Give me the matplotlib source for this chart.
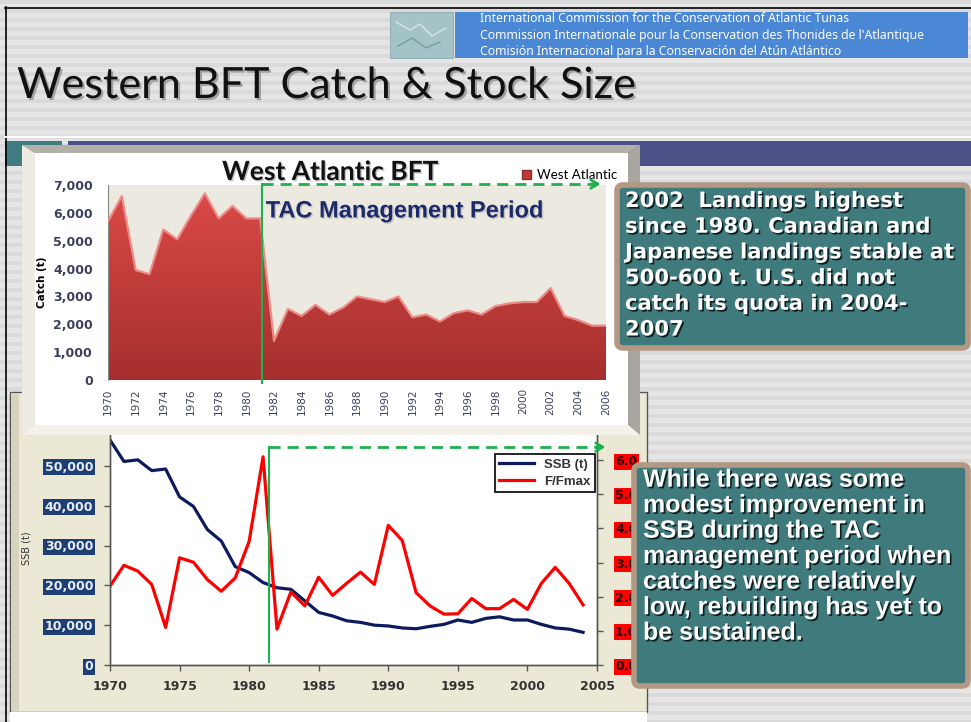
import matplotlib
matplotlib.use('Agg')
import matplotlib.pyplot as plt
import matplotlib.patheffects as pe
from matplotlib.patches import Rectangle, FancyBboxPatch, Polygon
from matplotlib.colors import LinearSegmentedColormap
import numpy as np

W, H = 971, 722

# --- data ---
catch_years = list(range(1970, 2007))
catch_t = [5700, 6600, 3950, 3800, 5400, 5050, 5900, 6700, 5800, 6250, 5800, 5800,
           1400, 2550, 2300, 2700, 2350, 2600, 3000, 2900, 2800, 3000, 2250, 2350,
           2100, 2400, 2500, 2350, 2650, 2750, 2800, 2800, 3300, 2300, 2150, 1950, 1950]
catch_ticks = list(range(0, 7001, 1000))
catch_xticks = list(range(1970, 2007, 2))

ssb_years = list(range(1970, 2005))
ssb_t = [56500, 51100, 51500, 48800, 49200, 42200, 39800, 34000, 31100, 24700,
         23200, 20700, 19400, 19000, 16100, 13200, 12300, 11100, 10700, 10000,
         9800, 9300, 9100, 9700, 10200, 11300, 10700, 11700, 12100, 11300,
         11300, 10200, 9300, 9000, 8200]
f_fmax = [2.31, 2.92, 2.75, 2.36, 1.10, 3.14, 3.01, 2.50, 2.16, 2.55,
          3.62, 6.10, 1.05, 2.14, 1.73, 2.57, 2.04, 2.39, 2.72, 2.36,
          4.09, 3.65, 2.12, 1.73, 1.49, 1.50, 1.95, 1.65, 1.65, 1.92,
          1.63, 2.39, 2.86, 2.39, 1.76]
ssb_ticks = list(range(0, 50001, 10000))
f_ticks = [0, 1, 2, 3, 4, 5, 6]
ssb_xticks = list(range(1970, 2006, 5))

banner_lines = ["International Commission for the Conservation of Atlantic Tunas",
                "Commission Internationale pour la Conservation des Thonides de l'Atlantique",
                "Comisión Internacional para la Conservación del Atún Atlántico"]
box1_lines = ["2002  Landings highest", "since 1980. Canadian and",
              "Japanese landings stable at", "500-600 t. U.S. did not",
              "catch its quota in 2004-", "2007"]
box2_lines = ["While there was some", "modest improvement in", "SSB during the TAC",
              "management period when", "catches were relatively",
              "low, rebuilding has yet to", "be sustained."]

GREEN = '#1DB04C'

fig = plt.figure(figsize=(W / 100, H / 100), dpi=100)


def px_axes(x0, y0, x1, y1, z):
    ax = fig.add_axes([x0 / W, 1 - y1 / H, (x1 - x0) / W, (y1 - y0) / H])
    ax.set_zorder(z)
    return ax


def overlay(z):
    ax = px_axes(0, 0, W, H, z)
    ax.set_xlim(0, W)
    ax.set_ylim(H, 0)
    ax.axis('off')
    return ax


# slide background
bg = overlay(0)
rows = np.where(np.arange(H) % 9 < 4, 0.855, 0.895)
bg.imshow(np.tile(rows[:, None], (1, 2)), cmap='gray', vmin=0, vmax=1,
          extent=(0, W, H, 0), aspect='auto')
bg.set_xlim(0, W); bg.set_ylim(H, 0)
bg.plot([5.5, 5.5], [7, H], color='black', lw=1.2)
bg.plot([5, W], [7.5, 7.5], color='black', lw=1.2)

# ICCAT banner
bg.add_patch(Rectangle((390, 12), 63, 46, fc='#A3C3C6', ec='#7FA3A8', lw=0.5))
bg.plot([396, 410, 420, 432, 446], [22, 30, 24, 36, 28], color='#E4EEEE', lw=1, alpha=0.8)
bg.plot([398, 412, 426, 440], [46, 38, 48, 42], color='#6E9397', lw=1, alpha=0.8)
bg.add_patch(Rectangle((455, 12), 513, 46, fc='#4A87D4', ec='none'))
for i, line in enumerate(banner_lines):
    bg.text(480, 19 + 16 * i, line, color='white', fontsize=8.8,
            family='Noto Sans', va='center')

bg.text(17, 86, 'Western BFT Catch & Stock Size', fontsize=31, family='Lato',
        va='center', color='#111111',
        path_effects=[pe.withSimplePatchShadow(offset=(1.5, -1.5),
                                               shadow_rgbFace='#777777', alpha=0.6)])
bg.plot([5, W], [137, 137], color='white', lw=1.5)
bg.add_patch(Rectangle((5, 141), 57, 25, fc='#3F7B80', ec='none'))
bg.add_patch(Rectangle((68, 141), W - 68, 25, fc='#4C5087', ec='none'))

# beige panel behind the lower chart
bg.add_patch(Rectangle((10, 392), 637, 320, fc='#ECE8D6', ec='#555555', lw=1))
bg.add_patch(Rectangle((11, 393), 8, 318, fc='#D8D3BE', ec='none'))
bg.add_patch(Rectangle((10, 712), 637, 10, fc='white', ec='none'))

# --- lower chart: SSB and F/Fmax ---
ax_b = px_axes(110, 426, 597, 665, 1)
ax_b.set_facecolor('white')
ax_b.plot(ssb_years, ssb_t, color='#0D1B5E', lw=2.3, label='SSB (t)')
ax_b.set_xlim(1970, 2005)
ax_b.set_ylim(0, 60000)
ax_b.set_xticks(ssb_xticks)
ax_b.set_yticks(ssb_ticks)
ax_b.set_yticklabels([f'{v:,}' for v in ssb_ticks])
ax_b2 = ax_b.twinx()
ax_b2.set_zorder(2)
ax_b2.plot(ssb_years, f_fmax, color='#FF0000', lw=2.3, label='F/Fmax')
ax_b2.set_ylim(0, 7)
ax_b2.set_yticks(f_ticks)
ax_b2.set_yticklabels([f'{v:.1f}' for v in f_ticks])
for a in (ax_b, ax_b2):
    a.spines['top'].set_visible(False)
    for s in a.spines.values():
        s.set_color('#555555')
        s.set_linewidth(1)
    a.tick_params(direction='out', length=4, color='#555555', width=1)
ax_b.tick_params(axis='x', pad=7, labelsize=9, labelcolor='#333333')
ax_b.tick_params(axis='y', pad=8, labelsize=9, labelcolor='#E8ECF5')
ax_b2.tick_params(axis='y', pad=9, labelsize=9, labelcolor='#300000')
for t in ax_b.get_xticklabels():
    t.set_fontweight('bold')
for t in ax_b.get_yticklabels():
    t.set_fontweight('bold')
    t.set_bbox(dict(boxstyle='square,pad=0.12', fc='#1E3F73', ec='none'))
for t in ax_b2.get_yticklabels():
    t.set_fontweight('bold')
    t.set_bbox(dict(boxstyle='square,pad=0.12', fc='#FF0000', ec='none'))
ax_b.text(-0.172, 0.49, 'SSB (t)', rotation=90, transform=ax_b.transAxes,
          ha='center', va='center', fontsize=7, color='#333333')
h1, l1 = ax_b.get_legend_handles_labels()
h2, l2 = ax_b2.get_legend_handles_labels()
leg = ax_b2.legend(h1 + h2, l1 + l2, loc='upper right', bbox_to_anchor=(0.996, 0.883),
                   borderaxespad=0, fancybox=False, framealpha=1, handlelength=2.6,
                   labelspacing=0.35, borderpad=0.35,
                   prop={'family': 'Liberation Sans', 'weight': 'bold', 'size': 9.5})
leg.get_frame().set_edgecolor('black')
leg.get_frame().set_linewidth(1.2)
for t in leg.get_texts():
    t.set_color('#333333')

# TAC period marker, lower chart
tac_b = 1981.4
ax_b2.plot([tac_b, tac_b], [0.013, 0.912], transform=ax_b2.get_xaxis_transform(),
           color=GREEN, lw=1.5, clip_on=False, zorder=5)
ax_b2.plot([tac_b, 2005.2], [0.912, 0.912], transform=ax_b2.get_xaxis_transform(),
           color=GREEN, lw=2, ls=(0, (4, 2.5)), clip_on=False, zorder=5)
ax_b2.annotate('', xy=(2005.6, 0.912), xytext=(2004.9, 0.912),
               xycoords=('data', 'axes fraction'), textcoords=('data', 'axes fraction'),
               arrowprops=dict(arrowstyle='->,head_length=0.5,head_width=0.3',
                               color=GREEN, lw=2, shrinkA=0, shrinkB=0),
               annotation_clip=False, zorder=5)

# --- upper chart panel (bevelled frame) ---
ov1 = overlay(3)
ov1.add_patch(Polygon([(22, 145), (640, 145), (628, 153), (35, 153)], fc='#B3B0A8', ec='none'))
ov1.add_patch(Polygon([(640, 145), (640, 435), (628, 425), (628, 153)], fc='#A9A6A0', ec='none'))
ov1.add_patch(Polygon([(22, 145), (35, 153), (35, 425), (22, 435)], fc='#EEEBE2', ec='none'))
ov1.add_patch(Polygon([(22, 435), (640, 435), (628, 425), (35, 425)], fc='#F3F1E8', ec='none'))
ov1.add_patch(Rectangle((35, 153), 593, 272, fc='white', ec='none'))

# --- upper chart: catch area ---
ax_t = px_axes(108, 185, 606, 380, 4)
ax_t.set_facecolor('#ECE9E1')
poly = ax_t.fill_between(catch_years, catch_t, 0, color='none', lw=0)
red3d = LinearSegmentedColormap.from_list('red3d', ['#DC4B48', '#A52F2D'])
im = ax_t.imshow(np.linspace(0, 1, 256)[:, None], cmap=red3d, aspect='auto',
                 extent=(1970, 2006, 0, 7000), zorder=2)
im.set_clip_path(poly.get_paths()[0], ax_t.transData)
ax_t.plot(catch_years, catch_t, color='#EC8C88', lw=1.6, zorder=3)
ax_t.set_xlim(1970, 2006)
ax_t.set_ylim(0, 7000)
for side in ('top', 'right', 'bottom'):
    ax_t.spines[side].set_visible(False)
ax_t.spines['left'].set_color('#8A8A8A')
ax_t.spines['left'].set_linewidth(0.8)
ax_t.set_yticks(catch_ticks)
ax_t.set_yticklabels([f'{v:,}' for v in catch_ticks])
ax_t.set_xticks(catch_xticks)
ax_t.tick_params(axis='y', length=0, pad=11, labelsize=9, labelcolor='#3A3F5C')
ax_t.tick_params(axis='x', length=0, pad=6, labelsize=7.5, labelcolor='#3A3F5C',
                 labelrotation=90)
for t in ax_t.get_yticklabels():
    t.set_fontweight('bold')
ax_t.text(-0.1325, 0.5, 'Catch (t)', rotation=90, transform=ax_t.transAxes,
          ha='center', va='center', fontsize=7.5, fontweight='bold', color='black')
ax_t.text(0.446, 1.067, 'West Atlantic BFT', transform=ax_t.transAxes, ha='center',
          va='center', fontsize=19, fontweight='bold', family='Lato', color='#111111',
          path_effects=[pe.withSimplePatchShadow(offset=(1, -1),
                                                 shadow_rgbFace='#999999', alpha=0.6)])
proxy = Rectangle((0, 0), 1, 1, fc='#C0393A', ec='#8E2A2A')
ax_t.legend([proxy], ['West Atlantic'], loc='center right', bbox_to_anchor=(1.022, 1.05),
            frameon=False, handlelength=0.7, handleheight=0.7, handletextpad=0.4,
            borderaxespad=0, borderpad=0, prop={'family': 'Lato', 'size': 9.5})
ax_t.text(1981.4, 6070, 'TAC Management Period', ha='left', va='center', fontsize=17,
          fontweight='bold', family='Liberation Sans', color='#1B2A6B', zorder=5,
          path_effects=[pe.withSimplePatchShadow(offset=(1, -1),
                                                 shadow_rgbFace='#888888', alpha=0.4)])

# TAC period marker, upper chart
tac_t = 1981.1
ax_t.plot([tac_t, tac_t], [-0.015, 1.005], transform=ax_t.get_xaxis_transform(),
          color=GREEN, lw=1.5, clip_on=False, zorder=6)
ax_t.plot([tac_t, 2005.2], [1.005, 1.005], transform=ax_t.get_xaxis_transform(),
          color=GREEN, lw=2, ls=(0, (4, 2.5)), clip_on=False, zorder=6)
ax_t.annotate('', xy=(2005.6, 1.005), xytext=(2004.9, 1.005),
              xycoords=('data', 'axes fraction'), textcoords=('data', 'axes fraction'),
              arrowprops=dict(arrowstyle='->,head_length=0.5,head_width=0.3',
                              color=GREEN, lw=2, shrinkA=0, shrinkB=0),
              annotation_clip=False, zorder=6)

# --- commentary boxes ---
ov2 = overlay(5)
shadow = [pe.withSimplePatchShadow(offset=(1.2, -1.2), shadow_rgbFace='black', alpha=0.75)]
ov2.add_patch(FancyBboxPatch((617, 185), 351, 163, boxstyle='round,pad=0,rounding_size=6',
                             fc='#3F7A7D', ec='#B39883', lw=4))
for i, line in enumerate(box1_lines):
    ov2.text(625, 207 + 25.7 * i, line, color='white', fontsize=15.2, fontweight='bold',
             family='DejaVu Sans', va='baseline', path_effects=shadow)
ov2.add_patch(FancyBboxPatch((634, 465), 334, 221, boxstyle='round,pad=0,rounding_size=6',
                             fc='#3F7A7D', ec='#B39883', lw=4))
for i, line in enumerate(box2_lines):
    ov2.text(643, 486.7 + 25.5 * i, line, color='white', fontsize=18, fontweight='bold',
             family='Liberation Sans', va='baseline', path_effects=shadow)

fig.savefig('out.png', dpi=100)
